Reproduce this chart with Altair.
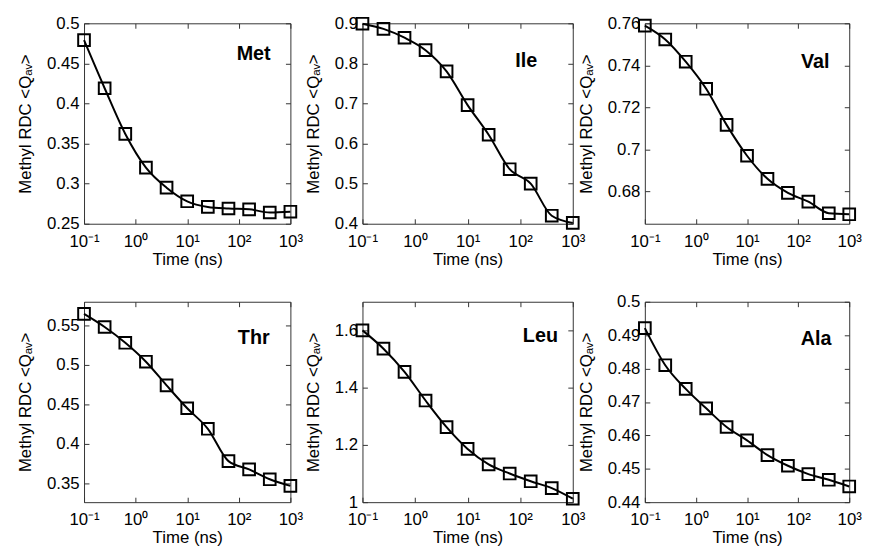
import altair as alt
import pandas as pd

# Sampled times (ns), log-spaced
time_ns = [0.1, 0.251, 0.631, 1.585, 3.981, 10.0, 25.12, 63.1, 158.5, 398.1, 1000.0]

met = [0.479, 0.419, 0.362, 0.320, 0.295, 0.278, 0.271, 0.269, 0.268, 0.264, 0.265]
ile = [0.899, 0.886, 0.864, 0.833, 0.780, 0.696, 0.622, 0.536, 0.500, 0.420, 0.402]
val = [0.7589, 0.7523, 0.7417, 0.7288, 0.7116, 0.6969, 0.6859, 0.6792, 0.6750, 0.6695, 0.6690]
thr = [0.5646, 0.548, 0.528, 0.504, 0.474, 0.445, 0.419, 0.378, 0.3675, 0.355, 0.3467]
leu = [1.600, 1.536, 1.455, 1.355, 1.262, 1.186, 1.132, 1.100, 1.073, 1.049, 1.012]
ala = [0.4921, 0.4810, 0.4739, 0.4681, 0.4625, 0.4585, 0.4541, 0.4509, 0.4484, 0.4467, 0.4447]

x_ticks = [0.1, 1, 10, 100, 1000]
met_ticks = [0.25, 0.3, 0.35, 0.4, 0.45, 0.5]
ile_ticks = [0.4, 0.5, 0.6, 0.7, 0.8, 0.9]
val_ticks = [0.68, 0.70, 0.72, 0.74, 0.76]
thr_ticks = [0.35, 0.4, 0.45, 0.5, 0.55]
leu_ticks = [1.0, 1.2, 1.4, 1.6]
ala_ticks = [0.44, 0.45, 0.46, 0.47, 0.48, 0.49, 0.5]

FONT = "Liberation Sans"
FRAME = "#333333"
TK = 5
x_label_expr = ("datum.value < 0.5 ? '10⁻¹' : datum.value < 5 ? '10⁰' : "
                "datum.value < 50 ? '10¹' : datum.value < 500 ? '10²' : '10³'")


def panel(name, vals, dom, ticks, w, h, lab_right, lab_base):
    df = pd.DataFrame({"t": time_ns, "v": vals})
    xs = alt.Scale(type="log", domain=[0.1, 1000], nice=False)
    ys = alt.Scale(domain=dom, nice=False, zero=False)
    base = alt.Chart(df)
    line = base.mark_line(color="black", strokeWidth=2, interpolate="monotone").encode(
        x=alt.X("t:Q", scale=xs, axis=alt.Axis(
            orient="bottom", values=x_ticks, labelExpr=x_label_expr, title="Time (ns)",
            offset=-TK, tickSize=TK, labelPadding=10, titlePadding=2, labelFlush=False)),
        y=alt.Y("v:Q", scale=ys, axis=alt.Axis(
            orient="left", values=ticks, format="~g", title="Methyl RDC <Qₐᵥ>",
            offset=-TK, tickSize=TK, labelPadding=5, titlePadding=12)),
    )
    pts = base.mark_point(shape="square", size=140, color="black", strokeWidth=2,
                          filled=False, opacity=1).encode(
        x=alt.X("t:Q", scale=xs, axis=alt.Axis(
            orient="top", values=x_ticks, labels=False, title=None,
            offset=-TK, tickSize=TK)),
        y=alt.Y("v:Q", scale=ys, axis=alt.Axis(
            orient="right", values=ticks, labels=False, title=None,
            offset=-TK, tickSize=TK)),
    )
    label = alt.Chart(pd.DataFrame({"name": [name]})).mark_text(
        font=FONT, fontSize=20, fontWeight="bold", align="right", baseline="alphabetic",
        color="black").encode(
        text="name:N", x=alt.value(w - lab_right), y=alt.value(lab_base))
    return alt.layer(line, pts, label).resolve_axis(
        x="independent", y="independent").properties(width=w, height=h)


W1, W2, W3, H = 209, 213, 207, 203

panels = [
    panel("Met", met, [0.25, 0.5], met_ticks, W1, H, 20, 37),
    panel("Ile", ile, [0.4, 0.9], ile_ticks, W2, H, 36, 44),
    panel("Val", val, [0.6645, 0.76], val_ticks, W3, H, 20, 45),
    panel("Thr", thr, [0.326, 0.58], thr_ticks, W1, H, 21, 43),
    panel("Leu", leu, [1.0, 1.7], leu_ticks, W2, H, 15, 41),
    panel("Ala", ala, [0.44, 0.5], ala_ticks, W3, H, 18, 44),
]

chart = alt.concat(*panels, columns=3, spacing={"row": 79, "column": 73},
                   bounds="flush").properties(
    padding={"left": 8, "top": 1, "right": 5, "bottom": 5},
    background="white",
).configure_view(stroke=FRAME, strokeWidth=1).configure_axis(
    labelFont=FONT, titleFont=FONT, labelFontSize=17, titleFontSize=17,
    titleFontWeight="normal", labelColor="black", titleColor="black",
    tickColor=FRAME, tickWidth=1, domain=False, grid=False,
)

chart.save("out.html", embed_options={"renderer": "svg", "actions": False})
